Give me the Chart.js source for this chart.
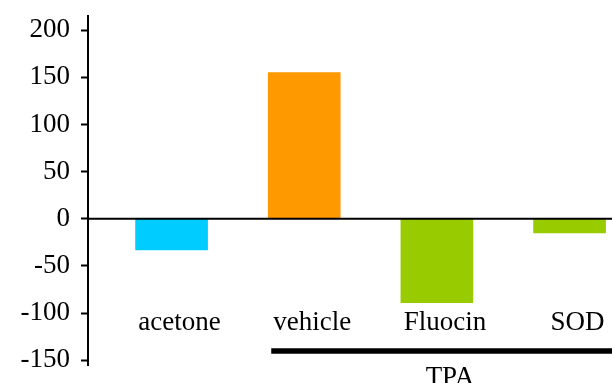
<!DOCTYPE html>
<html>
<head>
<meta charset="utf-8">
<script src="https://cdn.jsdelivr.net/npm/chart.js@4.4.0/dist/chart.umd.min.js"></script>
<style>
html,body{margin:0;padding:0;background:#fff;}
#wrap{width:612px;height:383px;position:relative;}
</style>
</head>
<body>
<div id="wrap"><canvas id="c" width="612" height="383"></canvas></div>
<script>
const categories = ['acetone', 'vehicle', 'Fluocin', 'SOD'];
const values = [-33, 155, -89, -15];
const barColors = ['#00CCFF', '#FF9900', '#99CC00', '#99CC00'];
const yTicks = [-150, -100, -50, 0, 50, 100, 150, 200];
const groupLabel = 'TPA';
const groupStart = 1; // first category under the group bracket
const groupEnd = 3;   // last category under the group bracket
const yMin = -155, yMax = 215;

const FONT = '27px "Liberation Serif", "Times New Roman", serif';

const overlay = {
  id: 'overlay',
  afterDatasetsDraw(chart) {
    const ctx = chart.ctx, x = chart.scales.x, y = chart.scales.y, a = chart.chartArea;
    ctx.save();
    // zero line
    const y0 = y.getPixelForValue(0);
    ctx.strokeStyle = '#000';
    ctx.lineWidth = 2;
    ctx.beginPath();
    ctx.moveTo(a.left, y0);
    ctx.lineTo(chart.width, y0);
    ctx.stroke();
    // category labels
    ctx.fillStyle = '#000';
    ctx.font = FONT;
    ctx.textAlign = 'center';
    ctx.textBaseline = 'alphabetic';
    categories.forEach((c, i) => {
      ctx.fillText(c, x.getPixelForValue(i) + 8, 330);
    });
    // group bracket
    const bw = chart.getDatasetMeta(0).data[groupStart].width || 72;
    const gx0 = x.getPixelForValue(groupStart) - bw / 2 + 3;
    const gx1 = chart.width;
    ctx.lineWidth = 5.5;
    ctx.beginPath();
    ctx.moveTo(gx0, 351);
    ctx.lineTo(gx1, 351);
    ctx.stroke();
    const gc = (x.getPixelForValue(groupStart) + x.getPixelForValue(groupEnd)) / 2 + 13;
    ctx.fillText(groupLabel, gc, 385);
    ctx.restore();
  }
};

new Chart(document.getElementById('c'), {
  type: 'bar',
  data: {
    datasets: [{
      data: values.map((v, i) => ({ x: i, y: v })),
      backgroundColor: barColors,
      borderWidth: 0,
      barThickness: 72
    }]
  },
  options: {
    responsive: false,
    animation: false,
    devicePixelRatio: 1,
    layout: { padding: { top: 16, bottom: 18, left: 0, right: 0 } },
    plugins: { legend: { display: false }, tooltip: { enabled: false } },
    scales: {
      x: {
        type: 'linear',
        min: -0.63,
        max: 3.32,
        offset: false,
        display: false
      },
      y: {
        min: yMin,
        max: yMax,
        afterBuildTicks: s => { s.ticks = yTicks.map(v => ({ value: v })); },
        afterFit: s => { s.width = 88; s.paddingTop = 0; s.paddingBottom = 0; },
        border: { display: true, color: '#000', width: 2 },
        grid: {
          drawOnChartArea: false,
          drawTicks: true,
          tickLength: 7,
          tickWidth: 2,
          tickColor: '#000'
        },
        ticks: {
          autoSkip: false,
          padding: 11,
          color: '#000',
          font: { family: '"Liberation Serif", "Times New Roman", serif', size: 27 }
        }
      }
    }
  },
  plugins: [overlay]
});
</script>
</body>
</html>
